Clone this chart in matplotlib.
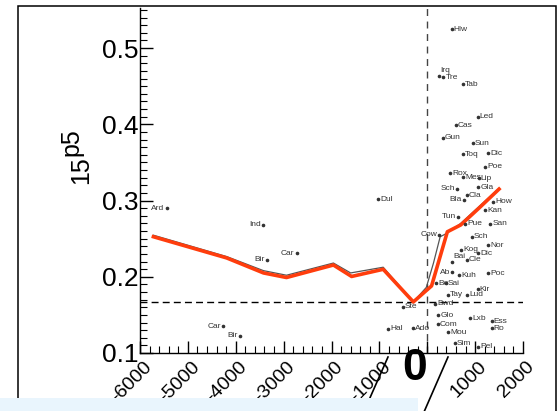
import matplotlib
matplotlib.use("Agg")
import matplotlib.pyplot as plt
from matplotlib.patches import Rectangle
from matplotlib.lines import Line2D
from matplotlib.ticker import MultipleLocator
import matplotlib.transforms as mtransforms

plt.rcParams['font.family'] = ['Liberation Sans', 'DejaVu Sans']

# fitted trend (red) and the thin line under it
trend_x = [-5720, -4190, -3420, -2940, -1960, -1580, -920, -290, 90, 420, 700, 1080, 1500]
trend_y = [0.2525, 0.2247, 0.205, 0.199, 0.2154, 0.2004, 0.2098, 0.167, 0.188, 0.259, 0.268, 0.290, 0.315]
thin_x = [-5720, -4190, -3420, -2940, -1960, -1600, -920, -290, -20, 130, 270, 410, 700, 1080, 1500]
thin_y = [0.2545, 0.2265, 0.208, 0.202, 0.218, 0.205, 0.2125, 0.167, 0.186, 0.218, 0.2525, 0.257, 0.270, 0.292, 0.316]

# reference level
ref_y = 0.167

# labelled points
names = ['Hlw', 'Irq', 'Tre', 'Tab', 'Led', 'Cas', 'Gun', 'Sun', 'Toq', 'Dic',
         'Poe', 'Rox', 'Mes', 'Lip', 'Sch', 'Gla', 'Cla', 'Bla', 'How', 'Kan',
         'Tun', 'Pue', 'San', 'Cow', 'Sch', 'Nor', 'Kog', 'Dic', 'Bai', 'Cle',
         'Ab', 'Kuh', 'Poc', 'Bo', 'Sai', 'Kir', 'Tay', 'Lud', 'Ste', 'Bwd',
         'Glo', 'Lxb', 'Ess', 'Ro', 'Com', 'Mou', 'Ado', 'Hal', 'Sim', 'Pel',
         'Ard', 'Ind', 'Bir', 'Car', 'Dul', 'Car', 'Bir']
pts_x = [511, 252, 336, 741, 1054, 601, 323, 950, 741, 1276,
         1207, 476, 747, 1075, 628, 1067, 825, 768, 1380, 1207,
         643, 789, 1312, 246, 929, 1270, 706, 1061, 511, 831,
         518, 670, 1276, 183, 392, 1054, 434, 830, -506, 163,
         232, 894, 1347, 1347, 225, 434, -291, -813, 580, 1067,
         -5442, -3424, -3353, -2727, -1022, -4260, -3911]
pts_y = [0.5245, 0.4633, 0.4616, 0.4528, 0.4099, 0.399, 0.3824, 0.375, 0.3606, 0.3619,
         0.3443, 0.336, 0.3308, 0.3295, 0.3155, 0.3173, 0.3066, 0.3013, 0.2984, 0.2875,
         0.2784, 0.2692, 0.2692, 0.2548, 0.2525, 0.2416, 0.2351, 0.2311, 0.2197, 0.222,
         0.2062, 0.2023, 0.2045, 0.1918, 0.1918, 0.1835, 0.1761, 0.1761, 0.1607, 0.1643,
         0.1498, 0.1455, 0.1415, 0.1325, 0.138, 0.1275, 0.1324, 0.1315, 0.1127, 0.1083,
         0.2898, 0.2679, 0.222, 0.2307, 0.3016, 0.1354, 0.1223]
# where the label sits relative to its dot: r = right, l = left, t = above
label_side = ['r', 't', 'r', 'r', 'r', 'r', 'r', 'r', 'r', 'r',
              'r', 'r', 'r', 'r', 'l', 'r', 'r', 'l', 'r', 'r',
              'l', 'r', 'r', 'l', 'r', 'r', 'r', 'r', 't', 'r',
              'l', 'r', 'r', 'r', 'r', 'r', 'r', 'r', 'r', 'r',
              'r', 'r', 'r', 'r', 'r', 'r', 'r', 'r', 'r', 'r',
              'l', 'l', 'l', 'l', 'r', 'l', 'l']

xticks = [-6000, -5000, -4000, -3000, -2000, -1000, 0, 1000, 2000]
xtick_labels = ['-6000', '-5000', '-4000', '-3000', '-2000', '-1000', '', '1000', '2000']
yticks = [0.1, 0.2, 0.3, 0.4, 0.5]
ytick_labels = ['0.1', '0.2', '0.3', '0.4', '0.5']

W, H = 559, 411


def px(x, y):
    return x / W, 1 - y / H


fig = plt.figure(figsize=(W / 100, H / 100), dpi=100)
ax = fig.add_axes([140 / W, 1 - 353 / H, (523 - 140) / W, (353 - 8) / H])
ax.set_xlim(-6000, 2000)
ax.set_ylim(0.1, 0.5525)

for s in ['top', 'right']:
    ax.spines[s].set_visible(False)
for s in ['left', 'bottom']:
    ax.spines[s].set_linewidth(1)

ax.set_xticks(xticks)
ax.set_xticklabels(xtick_labels)
ax.set_yticks(yticks)
ax.set_yticklabels(ytick_labels)
ax.xaxis.set_minor_locator(MultipleLocator(200))
ax.yaxis.set_minor_locator(MultipleLocator(0.01))
ax.tick_params(which='major', direction='in', length=9, width=1)
ax.tick_params(which='minor', direction='in', length=5, width=0.8)
ax.tick_params(axis='y', labelsize=19, pad=1)
ax.tick_params(axis='x', labelsize=14, pad=8)

shift = mtransforms.ScaledTranslation(6.5 / 72, 0, fig.dpi_scale_trans)
for lab in ax.get_xticklabels():
    lab.set_rotation(45)
    lab.set_ha('right')
    lab.set_va('center')
    lab.set_rotation_mode('anchor')
    lab.set_transform(lab.get_transform() + shift)

ax.axvline(0, color='#444444', lw=1, ls=(0, (5, 4)), zorder=1)
ax.axhline(ref_y, color='black', lw=1, ls=(0, (5, 3)), zorder=1)

ax.plot(thin_x, thin_y, color='#555555', lw=0.9, zorder=2)
ax.plot(trend_x, trend_y, color='#ff3d0d', lw=2.6, zorder=3, solid_joinstyle='round')

ax.plot(pts_x, pts_y, 'o', ms=1.6, color='#333333', zorder=4)
for n, x, y, side in zip(names, pts_x, pts_y, label_side):
    if side == 'r':
        off, ha, va = (1.5, 0), 'left', 'center'
    elif side == 'l':
        off, ha, va = (-1.5, 0), 'right', 'center'
    else:
        off, ha, va = (1, 1.5), 'left', 'bottom'
    ax.annotate(n, (x, y), xytext=off, textcoords='offset points',
                ha=ha, va=va, fontsize=6, color='#333333', zorder=4)

# y label: 15 with raised p5
fig.text(*px(88, 170), '15', rotation=90, rotation_mode='anchor',
         ha='center', va='baseline', fontsize=18)
fig.text(*px(78, 142), 'p5', rotation=90, rotation_mode='anchor',
         ha='center', va='baseline', fontsize=18)

# outer frame
x0, y0 = px(17.5, 420)
x1, y1 = px(556, 6)
fig.add_artist(Rectangle((x0, y0), x1 - x0, y1 - y0, transform=fig.transFigure,
                         fill=False, edgecolor='black', lw=1.1))

# big zero and the two slashes
fig.text(*px(415, 368), '0', ha='center', va='center', fontsize=32, weight='bold')
for (ax0, ay0), (ax1, ay1) in [((388, 357), (369, 400)), ((448, 357), (424, 412))]:
    p0 = px(ax0, ay0)
    p1 = px(ax1, ay1)
    fig.add_artist(Line2D([p0[0], p1[0]], [p0[1], p1[1]], transform=fig.transFigure,
                          color='black', lw=1.2))

# light band along the bottom
bx0, by0 = px(0, 411)
bx1, by1 = px(418, 398)
fig.add_artist(Rectangle((bx0, by0), bx1 - bx0, by1 - by0, transform=fig.transFigure,
                         facecolor='#e9f5fd', edgecolor='none', zorder=10))

fig.savefig('out.png', dpi=100)
